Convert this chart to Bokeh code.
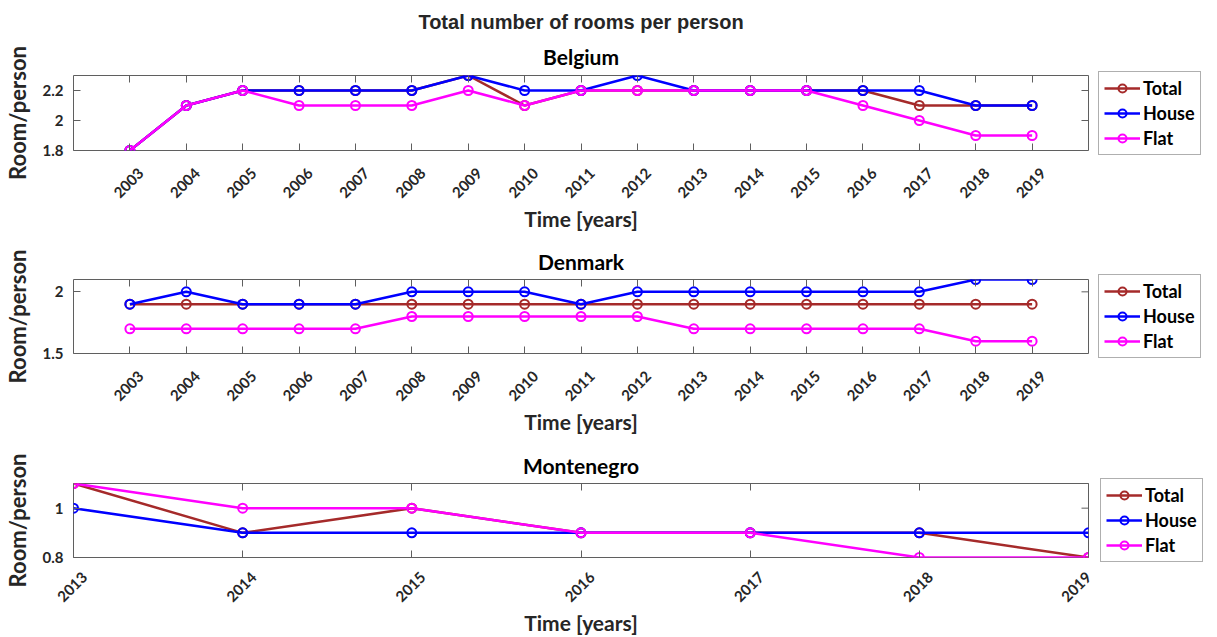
import math
from bokeh.plotting import figure
from bokeh.layouts import column
from bokeh.models import (FixedTicker, CustomJSTickFormatter, LinearAxis, Legend,
                          LegendItem, Title, Range1d)
from bokeh.embed import file_html
from bokeh.resources import INLINE

# ---------------- data ----------------
main_title = "Total number of rooms per person"
series_names = ["Total", "House", "Flat"]
series_colors = ["#A52A2A", "#0000FF", "#FF00FF"]
x_label = "Time [years]"
y_label = "Room/person"

belgium_years = [2003, 2004, 2005, 2006, 2007, 2008, 2009, 2010, 2011, 2012,
                 2013, 2014, 2015, 2016, 2017, 2018, 2019]
belgium_total = [1.8, 2.1, 2.2, 2.2, 2.2, 2.2, 2.3, 2.1, 2.2, 2.2, 2.2, 2.2, 2.2, 2.2, 2.1, 2.1, 2.1]
belgium_house = [1.8, 2.1, 2.2, 2.2, 2.2, 2.2, 2.3, 2.2, 2.2, 2.3, 2.2, 2.2, 2.2, 2.2, 2.2, 2.1, 2.1]
belgium_flat = [1.8, 2.1, 2.2, 2.1, 2.1, 2.1, 2.2, 2.1, 2.2, 2.2, 2.2, 2.2, 2.2, 2.1, 2.0, 1.9, 1.9]
belgium_yticks = [1.8, 2.0, 2.2]

denmark_years = [2003, 2004, 2005, 2006, 2007, 2008, 2009, 2010, 2011, 2012,
                 2013, 2014, 2015, 2016, 2017, 2018, 2019]
denmark_total = [1.9, 1.9, 1.9, 1.9, 1.9, 1.9, 1.9, 1.9, 1.9, 1.9, 1.9, 1.9, 1.9, 1.9, 1.9, 1.9, 1.9]
denmark_house = [1.9, 2.0, 1.9, 1.9, 1.9, 2.0, 2.0, 2.0, 1.9, 2.0, 2.0, 2.0, 2.0, 2.0, 2.0, 2.1, 2.1]
denmark_flat = [1.7, 1.7, 1.7, 1.7, 1.7, 1.8, 1.8, 1.8, 1.8, 1.8, 1.7, 1.7, 1.7, 1.7, 1.7, 1.6, 1.6]
denmark_yticks = [1.5, 2.0]

montenegro_years = [2013, 2014, 2015, 2016, 2017, 2018, 2019]
montenegro_total = [1.1, 0.9, 1.0, 0.9, 0.9, 0.9, 0.8]
montenegro_house = [1.0, 0.9, 0.9, 0.9, 0.9, 0.9, 0.9]
montenegro_flat = [1.1, 1.0, 1.0, 0.9, 0.9, 0.8, 0.8]
montenegro_yticks = [0.8, 1.0]

# ---------------- styling ----------------
W = 1217
FONT = "Lato"
FRAME_W = 1015
BORDER_L = 73
BORDER_R = W - BORDER_L - FRAME_W
GRAY = "#5f5f5f"
TXT = "#262626"
TICK_PX = 7          # inward tick length
LABEL_SHIFT_PX = 11  # rotated tick labels sit a little right of their tick
fmt_code = "return String(Math.round(tick*10)/10);"
year_code = "return String(Math.round(tick));"
blank_code = "return '';"


def base_axis(ax):
    ax.axis_line_color = None
    ax.minor_tick_line_color = None
    ax.major_tick_line_color = GRAY
    ax.major_tick_line_width = 1
    ax.major_tick_in = TICK_PX
    ax.major_tick_out = 0


def label_font(ax):
    ax.major_label_text_font = FONT
    ax.major_label_text_font_style = "bold"
    ax.major_label_text_font_size = "15px"
    ax.major_label_text_color = TXT


def title_font(ax):
    ax.axis_label_text_font = FONT
    ax.axis_label_text_font_style = "bold"
    ax.axis_label_text_font_size = "21px"
    ax.axis_label_text_color = TXT


def make_panel(name, years, total, house, flat, xr, yr, yticks, frame_h,
               b_top, b_bottom, title_standoff, tick_standoff, xlabel_standoff,
               legend_margin=10, with_main=False):
    p = figure(frame_width=FRAME_W, frame_height=frame_h,
               x_range=Range1d(*xr), y_range=Range1d(*yr),
               output_backend="svg", toolbar_location=None, title=None,
               x_axis_type=None, y_axis_type=None,
               min_border_left=BORDER_L, min_border_right=BORDER_R,
               min_border_top=b_top, min_border_bottom=b_bottom)
    p.outline_line_color = GRAY
    p.outline_line_width = 1
    p.xgrid.visible = False
    p.ygrid.visible = False
    p.background_fill_color = "white"
    p.border_fill_color = "white"

    px_per_x = FRAME_W / (xr[1] - xr[0])
    shift = LABEL_SHIFT_PX / px_per_x
    # a label whose shifted anchor would leave the range stays on its tick
    label_ticks = [y + shift if y + shift <= xr[1] else y for y in years]

    # bottom: tick marks only
    xt = FixedTicker(ticks=years)
    xb = LinearAxis(ticker=xt, formatter=CustomJSTickFormatter(code=blank_code))
    base_axis(xb)
    xb.major_label_standoff = 0
    p.add_layout(xb, "below")

    # bottom: rotated year labels + axis title
    xl = LinearAxis(ticker=FixedTicker(ticks=label_ticks),
                    formatter=CustomJSTickFormatter(code=year_code), axis_label=x_label)
    base_axis(xl)
    xl.major_tick_line_color = None
    xl.major_tick_in = 0
    label_font(xl)
    xl.major_label_orientation = math.pi / 4
    xl.major_label_standoff = tick_standoff
    title_font(xl)
    xl.axis_label_standoff = xlabel_standoff
    p.add_layout(xl, "below")

    # left axis
    yt = FixedTicker(ticks=yticks)
    yl = LinearAxis(ticker=yt, formatter=CustomJSTickFormatter(code=fmt_code),
                    axis_label=y_label)
    base_axis(yl)
    label_font(yl)
    yl.major_label_standoff = 10
    title_font(yl)
    yl.axis_label_text_font_size = "22px"
    yl.axis_label_standoff = 9
    p.add_layout(yl, "left")

    # top mirror ticks
    xa = LinearAxis(ticker=xt, formatter=CustomJSTickFormatter(code=blank_code))
    base_axis(xa)
    xa.major_label_standoff = 0
    p.add_layout(xa, "above")

    # right mirror ticks (inward), length derived from the frame scale
    dx = TICK_PX * (xr[1] - xr[0]) / FRAME_W
    n = len(yticks)
    p.segment(x0=[xr[1] - dx] * n, y0=yticks, x1=[xr[1]] * n, y1=yticks,
              line_color=GRAY, line_width=1)

    p.add_layout(Title(text=name, align="center", text_font=FONT, text_font_style="bold",
                       text_font_size="21px", text_color="black",
                       standoff=title_standoff), "above")
    if with_main:
        p.add_layout(Title(text=main_title, align="center", text_font="Liberation Sans",
                           text_font_style="bold", text_font_size="20px", text_color=TXT,
                           standoff=6), "above")

    items = []
    for lab, col, vals in zip(series_names, series_colors, [total, house, flat]):
        rl = p.line(years, vals, line_color=col, line_width=2.5)
        rs = p.scatter(years, vals, marker="circle", size=9, line_color=col,
                       fill_color=None, line_width=2)
        items.append(LegendItem(label=lab, renderers=[rl, rs]))

    leg = Legend(items=items, location="center_left", margin=legend_margin,
                 padding=5, spacing=3, label_height=20, glyph_height=20, glyph_width=36,
                 label_standoff=3, label_text_font=FONT, label_text_font_style="bold",
                 label_text_font_size="18px", label_text_color="black",
                 border_line_color=GRAY, border_line_width=1,
                 background_fill_color="white", background_fill_alpha=1.0)
    p.add_layout(leg, "right")
    return p


p1 = make_panel("Belgium", belgium_years, belgium_total, belgium_house, belgium_flat,
                (2002, 2020), (1.8, 2.3), belgium_yticks, 75, 75, 86, 13, 20, 0,
                with_main=True)
p2 = make_panel("Denmark", denmark_years, denmark_total, denmark_house, denmark_flat,
                (2002, 2020), (1.5, 2.1), denmark_yticks, 74, 43, 88, 11, 20, 0)
p3 = make_panel("Montenegro", montenegro_years, montenegro_total, montenegro_house,
                montenegro_flat, (2013, 2019), (0.8, 1.1), montenegro_yticks, 74, 42, 78,
                12, 17, 0, legend_margin=12)

layout = column(p1, p2, p3, spacing=0)
open("out.html", "w").write(file_html(layout, INLINE))
